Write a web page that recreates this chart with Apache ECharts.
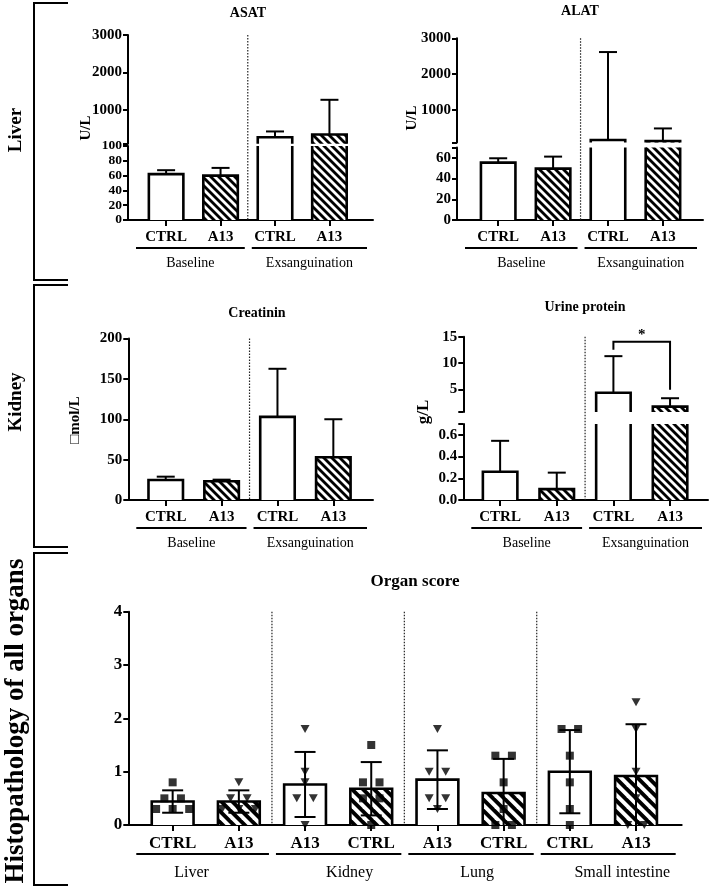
<!DOCTYPE html>
<html><head><meta charset="utf-8">
<script src="https://cdn.jsdelivr.net/npm/echarts@6/dist/echarts.min.js"></script>
<style>html,body{margin:0;padding:0;background:#fff}#main{width:709px;height:889px}</style>
</head><body><div id="main"></div>
<script>
// ================= DATA =================
const topCategories = ['CTRL', 'A13', 'CTRL', 'A13'];
const topGroups = [{name: 'Baseline', from: 1, to: 2}, {name: 'Exsanguination', from: 3, to: 4}];

const asatMean = [62, 60, 273, 346];
const asatSD = [5.3, 10.4, 155, 926];
const alatMean = [55.4, 49.6, 167, 139];
const alatSD = [4.2, 11.6, 2450, 350];
const creatMean = [24.8, 23.2, 103, 53];
const creatSD = [4.1, 2.0, 59.5, 47];
const urineMean = [0.26, 0.10, 4.35, 1.7];
const urineSD = [0.285, 0.152, 6.95, 1.6];
const urineSig = {from: 3, to: 4, level: 14.05, leftEnd: 12.5, rightEnd: 4.9, mark: '*'};

const organCategories = ['CTRL', 'A13', 'A13', 'CTRL', 'A13', 'CTRL', 'CTRL', 'A13'];
const organGroups = [{name: 'Liver', from: 1, to: 2}, {name: 'Kidney', from: 3, to: 4},
                     {name: 'Lung', from: 5, to: 6}, {name: 'Small intestine', from: 7, to: 8}];
const organMean = [0.44, 0.44, 0.76, 0.68, 0.85, 0.60, 1.00, 0.92];
const organSD = [0.21, 0.21, 0.61, 0.50, 0.55, 0.64, 0.78, 0.97];
const organPoints = [
  [0.8, 0.5, 0.5, 0.3, 0.3, 0.3],
  [0.8, 0.5, 0.5, 0.3, 0.3, 0.3],
  [1.8, 1.0, 0.8, 0.5, 0.5, 0.0],
  [1.5, 0.8, 0.8, 0.5, 0.5, 0.0],
  [1.8, 1.0, 1.0, 0.5, 0.5, 0.3],
  [1.3, 1.3, 0.8, 0.3, 0.0, 0.0],
  [1.8, 1.8, 1.3, 0.8, 0.3, 0.0],
  [2.3, 1.8, 1.0, 0.5, 0.0, 0.0]
];

// tick labels
const asatTicksUpper = [1000, 2000, 3000];
const asatTicksLower = [0, 20, 40, 60, 80, 100];
const alatTicksUpper = [1000, 2000, 3000];
const alatTicksLower = [0, 20, 40, 60];
const creatTicks = [0, 50, 100, 150, 200];
const urineTicksUpper = [5, 10, 15];
const urineTicksLower = [0, 0.2, 0.4, 0.6];
const organTicks = [0, 1, 2, 3, 4];

// ================= LAYOUT / STYLE =================
const FONT = '"Liberation Serif", "Times New Roman", serif';

function hatchCanvas(P) {
  const c = document.createElement('canvas');
  c.width = P; c.height = P;
  const g = c.getContext('2d');
  g.fillStyle = '#fff'; g.fillRect(0, 0, P, P);
  g.fillStyle = '#000';
  for (const s of [-2 * P, -P, 0, P]) {
    g.beginPath();
    g.moveTo(s, 0); g.lineTo(s + P / 2, 0); g.lineTo(s + P / 2 + P, P); g.lineTo(s + P, P);
    g.closePath(); g.fill();
  }
  return c;
}
const patTop = {image: hatchCanvas(8), repeat: 'repeat'};
const patOrgan = {image: hatchCanvas(11), repeat: 'repeat'};

const topStyle = {barW: 34.5, capW: 18, both: false, pattern: patTop, tickFont: 15, catFont: 15,
  groupFont: 14, catMargin: 10, lineOff: 28, textOff: 43, labelShift: [0, 0]};
const panels = [
  Object.assign({cats: topCategories, groups: topGroups, mean: asatMean, sd: asatSD,
    left: 128, width: 245, xMin: 0.3, xMax: 4.8,
    segs: [{top: 35, bottom: 143.75, min: 100, max: 3000, labels: asatTicksUpper, ticks: [100].concat(asatTicksUpper)},
           {top: 146, bottom: 220, min: 0, max: 100, labels: asatTicksLower, ticks: asatTicksLower, font: 13.5}]}, topStyle),
  Object.assign({cats: topCategories, groups: topGroups, mean: alatMean, sd: alatSD,
    left: 457, width: 246, xMin: 0.25, xMax: 4.73,
    segs: [{top: 38.3, bottom: 142.4, min: 100, max: 3000, labels: alatTicksUpper, ticks: [100].concat(alatTicksUpper)},
           {top: 147.5, bottom: 220, min: 0, max: 70, labels: alatTicksLower, ticks: alatTicksLower.concat([70])}]}, topStyle),
  Object.assign({cats: topCategories, groups: topGroups, mean: creatMean, sd: creatSD,
    left: 128.3, width: 244.7, xMin: 0.33, xMax: 4.71,
    segs: [{top: 338.5, bottom: 500, min: 0, max: 200, labels: creatTicks, ticks: creatTicks}]}, topStyle),
  Object.assign({cats: topCategories, groups: topGroups, mean: urineMean, sd: urineSD,
    left: 463.3, width: 244.7, xMin: 0.35, xMax: 4.67,
    segs: [{top: 336.7, bottom: 411.9, min: 0.7, max: 15, labels: urineTicksUpper, ticks: [0.7].concat(urineTicksUpper), sig: urineSig},
           {top: 424, bottom: 500, min: 0, max: 0.7, labels: urineTicksLower, ticks: urineTicksLower.concat([0.7]),
            fmt: v => v.toFixed(1)}]}, topStyle),
  {cats: organCategories, groups: organGroups, mean: organMean, sd: organSD, points: organPoints,
    left: 128.3, width: 553.4, xMin: 0.33, xMax: 8.69,
    segs: [{top: 611.7, bottom: 825, min: 0, max: 4, labels: organTicks, ticks: organTicks}],
    barW: 41.8, capW: 21, both: true, pattern: patOrgan, tickFont: 17, catFont: 17,
    groupFont: 16, catMargin: 10, lineOff: 29, textOff: 48, labelShift: [-11, 11, 6, 14]}
];

const BLACK = '#000';
const lineSt = (w) => ({stroke: BLACK, lineWidth: w, fill: 'none', lineCap: 'butt'});

function barRender(p) {
  return function (params, api) {
    const cs = params.coordSys;
    const x = api.value(0), v = api.value(1), hatch = api.value(2);
    const p0 = api.coord([x, 0]), p1 = api.coord([x, v]);
    const gT = cs.y, gB = cs.y + cs.height;
    const cut = p1[1] < gT - 0.01;
    const yT = Math.max(p1[1], gT), yB = Math.min(p0[1], gB);
    if (yB - yT <= 0.3) return null;
    const l = p0[0] - p.barW / 2, r = p0[0] + p.barW / 2;
    const ch = [{type: 'rect', shape: {x: l, y: yT, width: p.barW, height: yB - yT},
      style: {fill: hatch ? p.pattern : '#fff', stroke: null}}];
    if (cut) {
      ch.push({type: 'line', shape: {x1: l, y1: yT, x2: l, y2: yB}, style: lineSt(2.6)});
      ch.push({type: 'line', shape: {x1: r, y1: yT, x2: r, y2: yB}, style: lineSt(2.6)});
    } else {
      ch.push({type: 'polyline', shape: {points: [[l, yB], [l, yT], [r, yT], [r, yB]]},
        style: Object.assign(lineSt(2.6), {lineJoin: 'miter'})});
    }
    return {type: 'group', children: ch};
  };
}

function errRender(p) {
  return function (params, api) {
    const cs = params.coordSys;
    const x = api.value(0), m = api.value(1), sd = api.value(2);
    const hi = m + sd, lo = p.both ? m - sd : m;
    const pH = api.coord([x, hi]), pL = api.coord([x, lo]);
    const gT = cs.y, gB = cs.y + cs.height;
    const y1 = Math.max(pH[1], gT), y2 = Math.min(pL[1], gB);
    const ch = [];
    if (y2 - y1 > 0.5) ch.push({type: 'line', shape: {x1: pH[0], y1: y1, x2: pH[0], y2: y2}, style: lineSt(2)});
    const cw = p.capW / 2;
    if (pH[1] >= gT - 0.5 && pH[1] <= gB)
      ch.push({type: 'line', shape: {x1: pH[0] - cw, y1: pH[1], x2: pH[0] + cw, y2: pH[1]}, style: lineSt(2)});
    if (p.both && pL[1] >= gT && pL[1] <= gB - 1)
      ch.push({type: 'line', shape: {x1: pL[0] - cw, y1: pL[1], x2: pL[0] + cw, y2: pL[1]}, style: lineSt(2)});
    return {type: 'group', children: ch};
  };
}

const grids = [], xAxes = [], yAxes = [], series = [];
let gi = 0;
panels.forEach(p => {
  const catIdx = p.cats.map((c, i) => i + 1);
  p.segs.forEach((s, si) => {
    const last = si === p.segs.length - 1;
    grids.push({left: p.left, top: s.top, width: p.width, height: s.bottom - s.top,
      containLabel: false, outerBoundsMode: 'none', show: false});
    if (last) {
      xAxes.push({type: 'value', gridIndex: gi, min: p.xMin, max: p.xMax, position: 'bottom',
        axisLine: {show: true, onZero: false, lineStyle: {color: BLACK, width: 2}},
        axisTick: {show: true, customValues: catIdx, length: 6, lineStyle: {color: BLACK, width: 2}},
        axisLabel: {show: true, customValues: catIdx, formatter: v => p.cats[Math.round(v) - 1],
          showMinLabel: true, showMaxLabel: true, hideOverlap: false,
          margin: p.catMargin, color: BLACK, fontFamily: FONT, fontWeight: 'bold', fontSize: p.catFont},
        splitLine: {show: false}});
    } else {
      xAxes.push({type: 'value', gridIndex: gi, min: p.xMin, max: p.xMax, show: false,
        splitLine: {show: false}});
    }
    const tf = s.font || p.tickFont;
    yAxes.push({type: 'value', gridIndex: gi, min: s.min, max: s.max,
      axisLine: {show: true, onZero: false, lineStyle: {color: BLACK, width: 2}},
      axisTick: {show: true, customValues: s.ticks, length: 5, lineStyle: {color: BLACK, width: 2}},
      axisLabel: {show: true, customValues: s.labels, formatter: s.fmt || (v => String(v)),
        showMinLabel: true, showMaxLabel: true, hideOverlap: false, lineHeight: tf - 1,
        margin: 6, color: BLACK, fontFamily: FONT, fontWeight: 'bold', fontSize: tf},
      splitLine: {show: false}});

    // bars
    series.push({type: 'custom', xAxisIndex: gi, yAxisIndex: gi, z: 3, silent: true,
      renderItem: barRender(p), data: p.mean.map((m, i) => [i + 1, m, i % 2])});
    // error bars
    series.push({type: 'custom', xAxisIndex: gi, yAxisIndex: gi, z: 4, silent: true,
      renderItem: errRender(p), data: p.mean.map((m, i) => [i + 1, m, p.sd[i]])});

    if (s.sig) {
      const sg = s.sig;
      series.push({type: 'custom', xAxisIndex: gi, yAxisIndex: gi, z: 5, silent: true,
        data: [[sg.from, sg.to, sg.level, sg.leftEnd, sg.rightEnd]],
        renderItem: (params, api) => {
          const a = api.coord([api.value(0), api.value(2)]), b = api.coord([api.value(1), api.value(2)]);
          const la = api.coord([api.value(0), api.value(3)]), lb = api.coord([api.value(1), api.value(4)]);
          return {type: 'group', children: [
            {type: 'polyline', shape: {points: [[la[0], la[1]], [a[0], a[1]], [b[0], b[1]], [lb[0], lb[1]]]},
              style: lineSt(2)},
            {type: 'text', x: (a[0] + b[0]) / 2, y: a[1] - 7,
              style: {text: sg.mark, fill: BLACK, fontSize: 15, fontWeight: 'bold', fontFamily: FONT,
                align: 'center', textAlign: 'center', verticalAlign: 'middle', textVerticalAlign: 'middle'}}
          ]};
        }});
    }

    if (last) {
      const topPx = p.segs[0].top;
      // dotted dividers between groups
      const divs = p.groups.slice(1).map(g => [g.from - 0.5]);
      series.push({type: 'custom', xAxisIndex: gi, yAxisIndex: gi, z: 1, silent: true, data: divs,
        renderItem: (params, api) => {
          const cs = params.coordSys;
          const c = api.coord([api.value(0), 0]);
          return {type: 'line', shape: {x1: c[0], y1: topPx, x2: c[0], y2: cs.y + cs.height},
            style: {stroke: '#222', lineWidth: 1.2, lineDash: [1.5, 1.5], fill: 'none'}};
        }});
      // group underlines + names
      const n = p.groups.length;
      const gdata = p.groups.map((g, k) => [k === 0 ? p.xMin : g.from - 0.5, k === n - 1 ? p.xMax : g.to + 0.5]);
      series.push({type: 'custom', xAxisIndex: gi, yAxisIndex: gi, z: 5, silent: true, data: gdata,
        renderItem: (params, api) => {
          const cs = params.coordSys;
          const k = params.dataIndex;
          const a = api.coord([api.value(0), 0]), b = api.coord([api.value(1), 0]);
          const y0 = cs.y + cs.height;
          const x1 = a[0] + (k === 0 ? 8 : 4), x2 = b[0] - (k === n - 1 ? 6 : 3);
          const shift = p.labelShift[k] || 0;
          return {type: 'group', children: [
            {type: 'line', shape: {x1: x1, y1: y0 + p.lineOff, x2: x2, y2: y0 + p.lineOff}, style: lineSt(2)},
            {type: 'text', x: (x1 + x2) / 2 + shift, y: y0 + p.textOff,
              style: {text: p.groups[k].name, fill: BLACK, fontSize: p.groupFont, fontFamily: FONT,
                align: 'center', textAlign: 'center', verticalAlign: 'middle', textVerticalAlign: 'middle'}}
          ]};
        }});
      // individual points
      if (p.points) {
        const sq = [], tri = [];
        p.points.forEach((vals, i) => {
          const counts = {};
          vals.forEach(v => { counts[v] = (counts[v] || 0) + 1; });
          const seen = {};
          vals.forEach(v => {
            const nn = counts[v], k = seen[v] || 0; seen[v] = k + 1;
            const pt = [i + 1 + (k - (nn - 1) / 2) * 0.25, v];
            (p.cats[i] === 'CTRL' ? sq : tri).push(pt);
          });
        });
        series.push({type: 'scatter', xAxisIndex: gi, yAxisIndex: gi, z: 6, silent: true,
          symbol: 'rect', symbolSize: 8, itemStyle: {color: BLACK}, data: sq, clip: false});
        series.push({type: 'scatter', xAxisIndex: gi, yAxisIndex: gi, z: 6, silent: true,
          symbol: 'triangle', symbolRotate: 180, symbolSize: [9, 8], itemStyle: {color: BLACK}, data: tri, clip: false});
      }
    }
    gi++;
  });
});

// titles, axis names, side labels and brackets
const txt = (text, x, y, size, bold, rot) => ({type: 'text', x: x, y: y, rotation: rot ? Math.PI / 2 : 0, silent: true,
  style: {text: text, fill: BLACK, fontSize: size, fontWeight: bold ? 'bold' : 'normal', fontFamily: FONT,
    align: 'center', textAlign: 'center', verticalAlign: 'middle', textVerticalAlign: 'middle'}});
const bracket = (y1, y2) => ({type: 'polyline', silent: true,
  shape: {points: [[68, y1], [34, y1], [34, y2], [68, y2]]}, style: {stroke: BLACK, lineWidth: 2, fill: 'none'}});

const graphic = [
  bracket(3, 280), bracket(285, 547), bracket(553, 885),
  txt('Liver', 16, 130, 19, true, true),
  txt('Kidney', 16, 402, 19, true, true),
  txt('Histopathology of all organs', 16, 721, 27, true, true),
  txt('ASAT', 248, 13, 14, true),
  txt('ALAT', 580, 11, 14, true),
  txt('Creatinin', 257, 313, 14, true),
  txt('Urine protein', 585, 307, 14, true),
  txt('Organ score', 415, 582, 17, true),
  txt('U/L', 86, 128, 15, true, true),
  txt('U/L', 412, 118, 15, true, true),
  txt('\u25A1mol/L', 75, 420, 15, true, true),
  txt('g/L', 424, 412, 17, true, true)
];

const chart = echarts.init(document.getElementById('main'), null, {renderer: 'canvas', width: 709, height: 889});
chart.setOption({
  animation: false,
  backgroundColor: '#fff',
  grid: grids, xAxis: xAxes, yAxis: yAxes, series: series, graphic: graphic
});
</script>
</body></html>
